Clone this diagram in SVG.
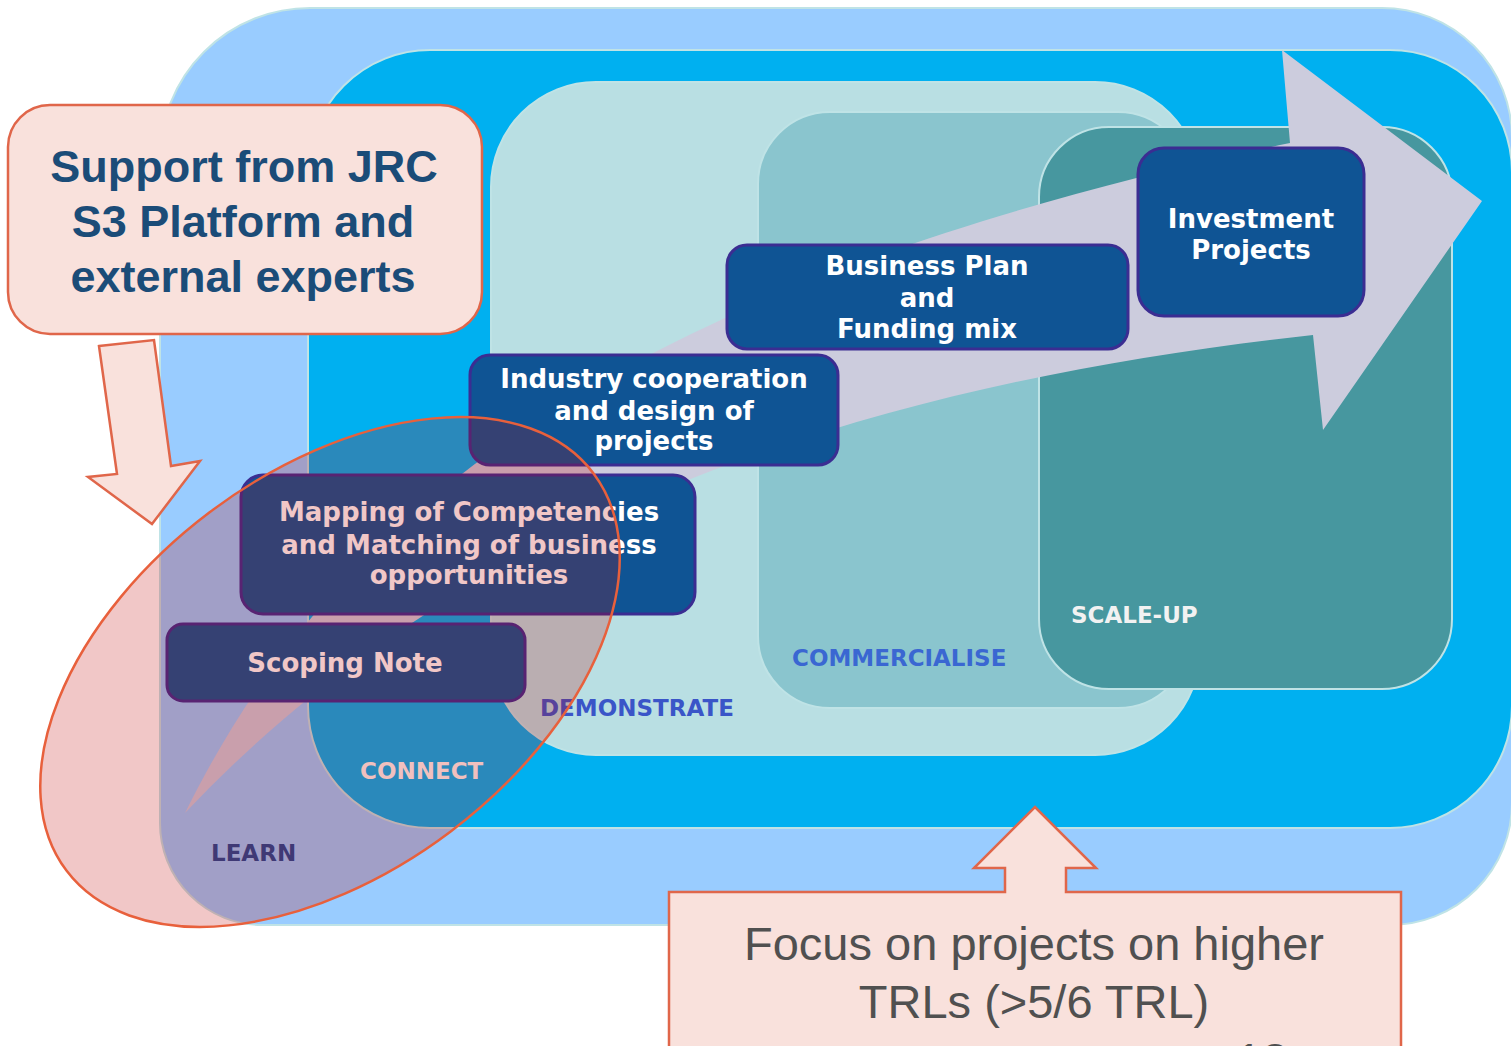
<svg xmlns="http://www.w3.org/2000/svg" width="1511" height="1046" viewBox="0 0 1511 1046">
<style>
.region{stroke:#BFE3E6;stroke-width:2}
.box{fill:#0F5494;stroke:#3B2D92;stroke-width:3}
.bt{font-family:"DejaVu Sans",Verdana,sans-serif;font-weight:bold;font-size:26px;fill:#FFFFFF;text-anchor:middle}
.lbl{font-family:"DejaVu Sans",Verdana,sans-serif;font-weight:bold;font-size:23px}
.call{fill:#F9E1DC;stroke:#E0664A;stroke-width:2.5}
.ct{font-family:"Liberation Sans",Arial,sans-serif;font-weight:bold;font-size:45px;fill:#1B4C78;text-anchor:middle}
.ft{font-family:"Liberation Sans",Arial,sans-serif;font-size:47px;fill:#505050;text-anchor:middle}
</style>
<rect width="1511" height="1046" fill="#FFFFFF"/>
<g id="regions">
  <path id="learn" class="region" fill="#99CCFF" d="M160,158 A150,150 0 0 1 310,8 L1382,8 A130,130 0 0 1 1512,138 L1512,803 A122,122 0 0 1 1390,925 L262,925 A102,102 0 0 1 160,823 Z"/>
  <rect id="connect" class="region" x="308" y="50" width="1204" height="778" rx="122" fill="#00B0F0"/>
  <rect id="demonstrate" class="region" x="491" y="82" width="709" height="673" rx="105" fill="#B9DFE3"/>
  <rect id="commercialise" class="region" x="758" y="112" width="432" height="596" rx="72" fill="#8AC5CE"/>
  <rect id="scaleup" class="region" x="1039" y="127" width="413" height="562" rx="70" fill="#47979F"/>
</g>
<g id="labels">
  <text class="lbl" x="1071" y="623" fill="#F2F2F2">SCALE-UP</text>
  <text class="lbl" x="792" y="666" fill="#3A67D2">COMMERCIALISE</text>
  <text class="lbl" x="540" y="716" fill="#3A55C8" font-size="22.5">DEMONSTRATE</text>
  <text class="lbl" x="360" y="779" fill="#FFF6F4" font-size="22.5">CONNECT</text>
  <text class="lbl" x="211" y="861" fill="#1B4A96" font-size="22.5">LEARN</text>
</g>
<g id="connectors">
  <path id="progress-arrow" fill="#CCCCDD" d="M185,813 C320,540 580,290 1290,143 L1282,50 L1482,201 L1323,430 L1313,335 C900,380 480,500 185,813 Z"/>
</g>
<g id="investment">
  <rect class="box" x="1138" y="148" width="226" height="168" rx="26"/>
  <text class="bt" x="1251" y="228">Investment</text>
  <text class="bt" x="1251" y="259">Projects</text>
</g>
<g id="business-plan">
  <rect class="box" x="727" y="245" width="401" height="104" rx="20"/>
  <text class="bt" x="927" y="275">Business Plan</text>
  <text class="bt" x="927" y="307">and</text>
  <text class="bt" x="927" y="338">Funding mix</text>
</g>
<g id="industry">
  <rect class="box" x="470" y="355" width="368" height="110" rx="20"/>
  <text class="bt" x="654" y="388">Industry cooperation</text>
  <text class="bt" x="654" y="420">and design of</text>
  <text class="bt" x="654" y="450">projects</text>
</g>
<g id="mapping">
  <rect class="box" x="241" y="475" width="454" height="139" rx="22"/>
  <text class="bt" x="469" y="521">Mapping of Competencies</text>
  <text class="bt" x="469" y="554">and Matching of business</text>
  <text class="bt" x="469" y="584">opportunities</text>
</g>
<g id="scoping">
  <rect class="box" x="167" y="624" width="358" height="77" rx="16"/>
  <text class="bt" x="345" y="672">Scoping Note</text>
</g>
<g id="focus-ellipse">
  <ellipse cx="330" cy="672" rx="330" ry="200" transform="rotate(-37 330 672)" fill="#C00000" fill-opacity="0.22" stroke="#E8603C" stroke-width="2.5"/>
</g>
<g id="support-callout">
  <rect class="call" x="8" y="105" width="474" height="229" rx="42"/>
  <path class="call" d="M99,346 L154,340 L171,466 L200,461 L152,524 L88,477 L117,474 Z"/>
  <text class="ct" x="244" y="182">Support from JRC</text>
  <text class="ct" x="243" y="237">S3 Platform and</text>
  <text class="ct" x="243" y="292">external experts</text>
</g>
<g id="focus-callout">
  <path class="call" stroke="#D84A2A" d="M669,892 L1005,892 L1005,868 L974,868 L1035,807 L1096,868 L1066,868 L1066,892 L1401,892 L1401,1050 L669,1050 Z"/>
  <text class="ft" x="1034" y="960">Focus on projects on higher</text>
  <text class="ft" x="1034" y="1018">TRLs (&gt;5/6 TRL)</text>
  <text class="ft" x="1262" y="1076">13</text>
</g>
</svg>
